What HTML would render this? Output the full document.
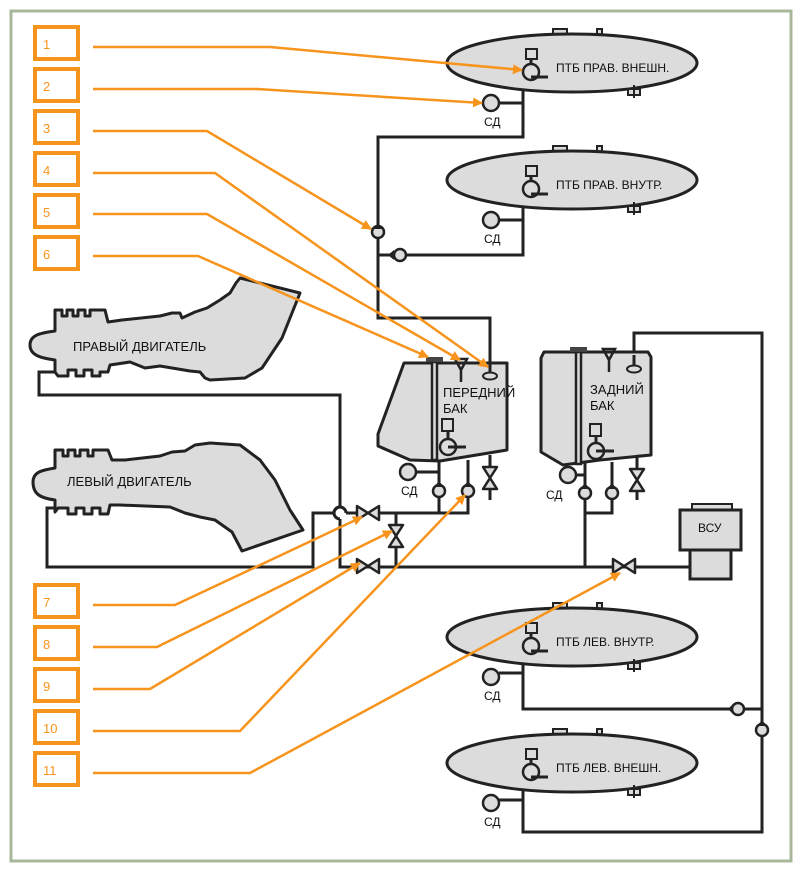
<!DOCTYPE html>
<html><head><meta charset="utf-8"><style>html,body{margin:0;padding:0;background:#fff}svg{display:block}</style></head><body>
<svg width="802" height="872" viewBox="0 0 802 872" xmlns="http://www.w3.org/2000/svg" font-family="Liberation Sans, sans-serif">
<defs>
<marker id="ar" markerWidth="10" markerHeight="10" refX="9" refY="5" orient="auto" markerUnits="userSpaceOnUse"><path d="M0,0 L10,5 L0,10 Z" fill="#f7941d"/></marker>
</defs>
<rect x="11" y="11" width="780" height="850" fill="#fff" stroke="#a9b89b" stroke-width="3"/>
<g fill="none" stroke="#222" stroke-width="3">
<polyline points="523,70 523,137 378,137 378,318 490,318 490,362"/>
<polyline points="523,186 523,255 378,255"/>
<line x1="499" y1="103" x2="523" y2="103"/>
<line x1="499" y1="220" x2="523" y2="220"/>
<polyline points="634,362 634,333 762,333 762,832 523,832 523,775"/>
<polyline points="523,650 523,709 762,709"/>
<line x1="499" y1="673" x2="523" y2="673"/>
<line x1="499" y1="800" x2="523" y2="800"/>
<polyline points="57,372 39,372 39,395 340,395 340,507"/>
<path d="M340,507 A6,6 0 0 0 340,519"/>
<polyline points="340,519 340,567 690,567"/>
<polyline points="57,508 47,508 47,567 313,567 313,513 334,513"/>
<path d="M334,513 A6,6 0 0 1 346,513"/>
<polyline points="346,513 468,513 468,460"/>
<line x1="439" y1="460" x2="439" y2="513"/>
<line x1="396" y1="513" x2="396" y2="567"/>
<line x1="416" y1="472" x2="439" y2="472"/>
<line x1="490" y1="455" x2="490" y2="500"/>
<line x1="585" y1="462" x2="585" y2="567"/>
<polyline points="612,462 612,513 585,513"/>
<line x1="576" y1="475" x2="585" y2="475"/>
<line x1="637" y1="455" x2="637" y2="500"/>
</g>
<g fill="#dcdcdc" stroke="#222" stroke-width="3" stroke-linejoin="round">
<path d="M30,345 C30,335 40,333 55,331 L55,310 L62,310 L62,316 L67,316 L67,310 L73,310 L73,316 L78,316 L78,310 L85,310 L85,316 L90,316 L90,310 L105,310 L108,322 L122,320 L160,316 L172,313 L180,313 L182,318 L195,312 L207,308 L220,300 L230,293 L236,283 L240,278 L300,293 L282,338 L262,368 L245,378 L210,380 L205,378 L200,372 L190,371 L160,366 L145,368 L130,362 L110,365 L108,372 L100,372 L100,376 L92,376 L92,370 L84,370 L84,376 L76,376 L76,370 L68,370 L68,376 L58,376 L55,372 L55,360 C40,358 30,355 30,345 Z"/>
<path d="M33,482 C33,472 42,470 55,468 L55,450 L63,450 L63,456 L68,456 L68,450 L75,450 L75,456 L80,456 L80,450 L88,450 L88,456 L93,456 L93,450 L108,450 L112,460 L125,460 L160,456 L172,452 L185,451 L195,445 L210,443 L240,445 L260,460 L275,480 L290,510 L303,530 L242,551 L232,532 L215,520 L200,517 L185,513 L170,507 L120,505 L110,505 L108,514 L100,514 L100,508 L92,508 L92,514 L84,514 L84,508 L76,508 L76,514 L68,514 L68,508 L58,508 L55,512 L55,500 C40,498 33,494 33,482 Z"/>
</g>
<g font-size="13" fill="#111">
<text x="73" y="351">ПРАВЫЙ ДВИГАТЕЛЬ</text>
<text x="67" y="486">ЛЕВЫЙ ДВИГАТЕЛЬ</text>
</g>
<g id="tank">
<rect x="553" y="29" width="14" height="6" fill="#dcdcdc" stroke="#222" stroke-width="2"/>
<rect x="597" y="29" width="5" height="6" fill="#dcdcdc" stroke="#222" stroke-width="2"/>
<ellipse cx="572" cy="63" rx="125" ry="29" fill="#dcdcdc" stroke="#222" stroke-width="3"/>
<rect x="628" y="89" width="12" height="6" fill="#dcdcdc" stroke="#222" stroke-width="2"/>
<line x1="634" y1="85" x2="634" y2="98" stroke="#222" stroke-width="2"/>
<rect x="526" y="49" width="11" height="10" fill="#dcdcdc" stroke="#222" stroke-width="2"/>
<line x1="531" y1="59" x2="531" y2="64" stroke="#222" stroke-width="3"/>
<circle cx="531" cy="72" r="8" fill="#dcdcdc" stroke="#222" stroke-width="2.5"/>
<line x1="531" y1="77" x2="548" y2="77" stroke="#222" stroke-width="3"/>
<circle cx="491" cy="103" r="8" fill="#dcdcdc" stroke="#222" stroke-width="2.5"/>
<text x="484" y="126" font-size="12" fill="#111">СД</text>
</g>
<use href="#tank" y="117"/>
<use href="#tank" y="574"/>
<use href="#tank" y="700"/>
<g font-size="12" fill="#111">
<text x="556" y="72">ПТБ ПРАВ. ВНЕШН.</text>
<text x="556" y="189">ПТБ ПРАВ. ВНУТР.</text>
<text x="556" y="646">ПТБ ЛЕВ. ВНУТР.</text>
<text x="556" y="772">ПТБ ЛЕВ. ВНЕШН.</text>
</g>
<path d="M404,363 L507,363 L507,450 L440,461 L410,460 L378,446 L378,434 Z" fill="#dcdcdc" stroke="#222" stroke-width="3" stroke-linejoin="round"/>
<rect x="432" y="362" width="5" height="98" fill="#dcdcdc" stroke="#222" stroke-width="2.5"/>
<rect x="426" y="357" width="17" height="5" fill="#444"/>
<path d="M455,359 L467,359 L461,370 Z M461,370 L461,382" fill="none" stroke="#222" stroke-width="2.5"/>
<line x1="490" y1="362" x2="490" y2="373" stroke="#222" stroke-width="3"/>
<ellipse cx="490" cy="376" rx="7" ry="3.5" fill="#dcdcdc" stroke="#222" stroke-width="2"/>
<text x="443" y="397" font-size="13" fill="#111">ПЕРЕДНИЙ</text>
<text x="443" y="413" font-size="13" fill="#111">БАК</text>
<rect x="442" y="419" width="11" height="12" fill="#dcdcdc" stroke="#222" stroke-width="2"/>
<line x1="448" y1="431" x2="448" y2="439" stroke="#222" stroke-width="3"/>
<circle cx="448" cy="447" r="8" fill="#dcdcdc" stroke="#222" stroke-width="2.5"/>
<line x1="448" y1="447" x2="466" y2="447" stroke="#222" stroke-width="3"/>
<circle cx="408" cy="472" r="8" fill="#dcdcdc" stroke="#222" stroke-width="2.5"/>
<text x="401" y="495" font-size="12" fill="#111">СД</text>
<path d="M544,352 L648,352 L651,357 L651,455 L600,460 L563,465 L541,452 L541,358 Z" fill="#dcdcdc" stroke="#222" stroke-width="3" stroke-linejoin="round"/>
<rect x="576" y="352" width="5" height="112" fill="#dcdcdc" stroke="#222" stroke-width="2.5"/>
<rect x="570" y="347" width="17" height="5" fill="#444"/>
<path d="M603,349 L615,349 L609,360 Z M609,360 L609,372" fill="none" stroke="#222" stroke-width="2.5"/>
<line x1="634" y1="355" x2="634" y2="366" stroke="#222" stroke-width="3"/>
<ellipse cx="634" cy="369" rx="7" ry="3.5" fill="#dcdcdc" stroke="#222" stroke-width="2"/>
<text x="590" y="394" font-size="13" fill="#111">ЗАДНИЙ</text>
<text x="590" y="410" font-size="13" fill="#111">БАК</text>
<rect x="590" y="424" width="11" height="12" fill="#dcdcdc" stroke="#222" stroke-width="2"/>
<line x1="596" y1="436" x2="596" y2="443" stroke="#222" stroke-width="3"/>
<circle cx="596" cy="451" r="8" fill="#dcdcdc" stroke="#222" stroke-width="2.5"/>
<line x1="596" y1="451" x2="614" y2="451" stroke="#222" stroke-width="3"/>
<circle cx="568" cy="475" r="8" fill="#dcdcdc" stroke="#222" stroke-width="2.5"/>
<text x="546" y="499" font-size="12" fill="#111">СД</text>
<rect x="692" y="504" width="40" height="6" fill="#dcdcdc" stroke="#222" stroke-width="2"/>
<rect x="680" y="510" width="61" height="40" fill="#dcdcdc" stroke="#222" stroke-width="3"/>
<rect x="690" y="550" width="41" height="29" fill="#dcdcdc" stroke="#222" stroke-width="3"/>
<text x="698" y="532" font-size="12" fill="#111">ВСУ</text>
<g fill="#dcdcdc" stroke="#222" stroke-width="2.5">
<circle cx="378" cy="232" r="6"/>
<circle cx="400" cy="255" r="6"/>
<circle cx="439" cy="491" r="6"/>
<circle cx="468" cy="491" r="6"/>
<circle cx="585" cy="493" r="6"/>
<circle cx="612" cy="493" r="6"/>
<circle cx="738" cy="709" r="6"/>
<circle cx="762" cy="730" r="6"/>
</g>
<g fill="#222">
<path d="M373,229 L378,223 L383,229 Z"/>
<path d="M394,250 L388,255 L394,260 Z"/>
<path d="M434,487 L439,481 L444,487 Z"/>
<path d="M463,487 L468,481 L473,487 Z"/>
<path d="M580,489 L585,483 L590,489 Z"/>
<path d="M607,489 L612,483 L617,489 Z"/>
<path d="M733,704 L728,709 L733,714 Z"/>
<path d="M757,726 L762,720 L767,726 Z"/>
</g>
<g fill="#dcdcdc" stroke="#222" stroke-width="2.5" stroke-linejoin="round">
<path d="M357,506 L379,520 L379,506 L357,520 Z"/>
<path d="M357,559 L379,573 L379,559 L357,573 Z"/>
<path d="M613,559 L635,573 L635,559 L613,573 Z"/>
<path d="M389,525 L403,547 L389,547 L403,525 Z"/>
<path d="M483,467 L497,489 L483,489 L497,467 Z"/>
<path d="M630,469 L644,491 L630,491 L644,469 Z"/>
</g>
<g fill="none" stroke="#f7941d" stroke-width="4">
<rect x="35" y="27" width="43" height="32"/>
<rect x="35" y="69" width="43" height="32"/>
<rect x="35" y="111" width="43" height="32"/>
<rect x="35" y="153" width="43" height="32"/>
<rect x="35" y="195" width="43" height="32"/>
<rect x="35" y="237" width="43" height="32"/>
<rect x="35" y="585" width="43" height="32"/>
<rect x="35" y="627" width="43" height="32"/>
<rect x="35" y="669" width="43" height="32"/>
<rect x="35" y="711" width="43" height="32"/>
<rect x="35" y="753" width="43" height="32"/>
</g>
<g font-size="13" fill="#f7941d">
<text x="43" y="49">1</text><text x="43" y="91">2</text><text x="43" y="133">3</text><text x="43" y="175">4</text><text x="43" y="217">5</text><text x="43" y="259">6</text>
<text x="43" y="607">7</text><text x="43" y="649">8</text><text x="43" y="691">9</text><text x="43" y="733">10</text><text x="43" y="775">11</text>
</g>
<g fill="none" stroke="#f7941d" stroke-width="2.5" marker-end="url(#ar)">
<polyline points="93,47 270,47 522,70"/>
<polyline points="93,89 257,89 482,103"/>
<polyline points="93,131 207,131 371,229"/>
<polyline points="93,173 215,173 488,367"/>
<polyline points="93,214 207,214 460,360"/>
<polyline points="93,256 198,256 428,357"/>
<polyline points="93,605 175,605 362,517"/>
<polyline points="93,647 157,647 392,531"/>
<polyline points="93,689 150,689 360,563"/>
<polyline points="93,731 240,731 465,495"/>
<polyline points="93,773 250,773 620,573"/>
</g>
</svg>
</body></html>
